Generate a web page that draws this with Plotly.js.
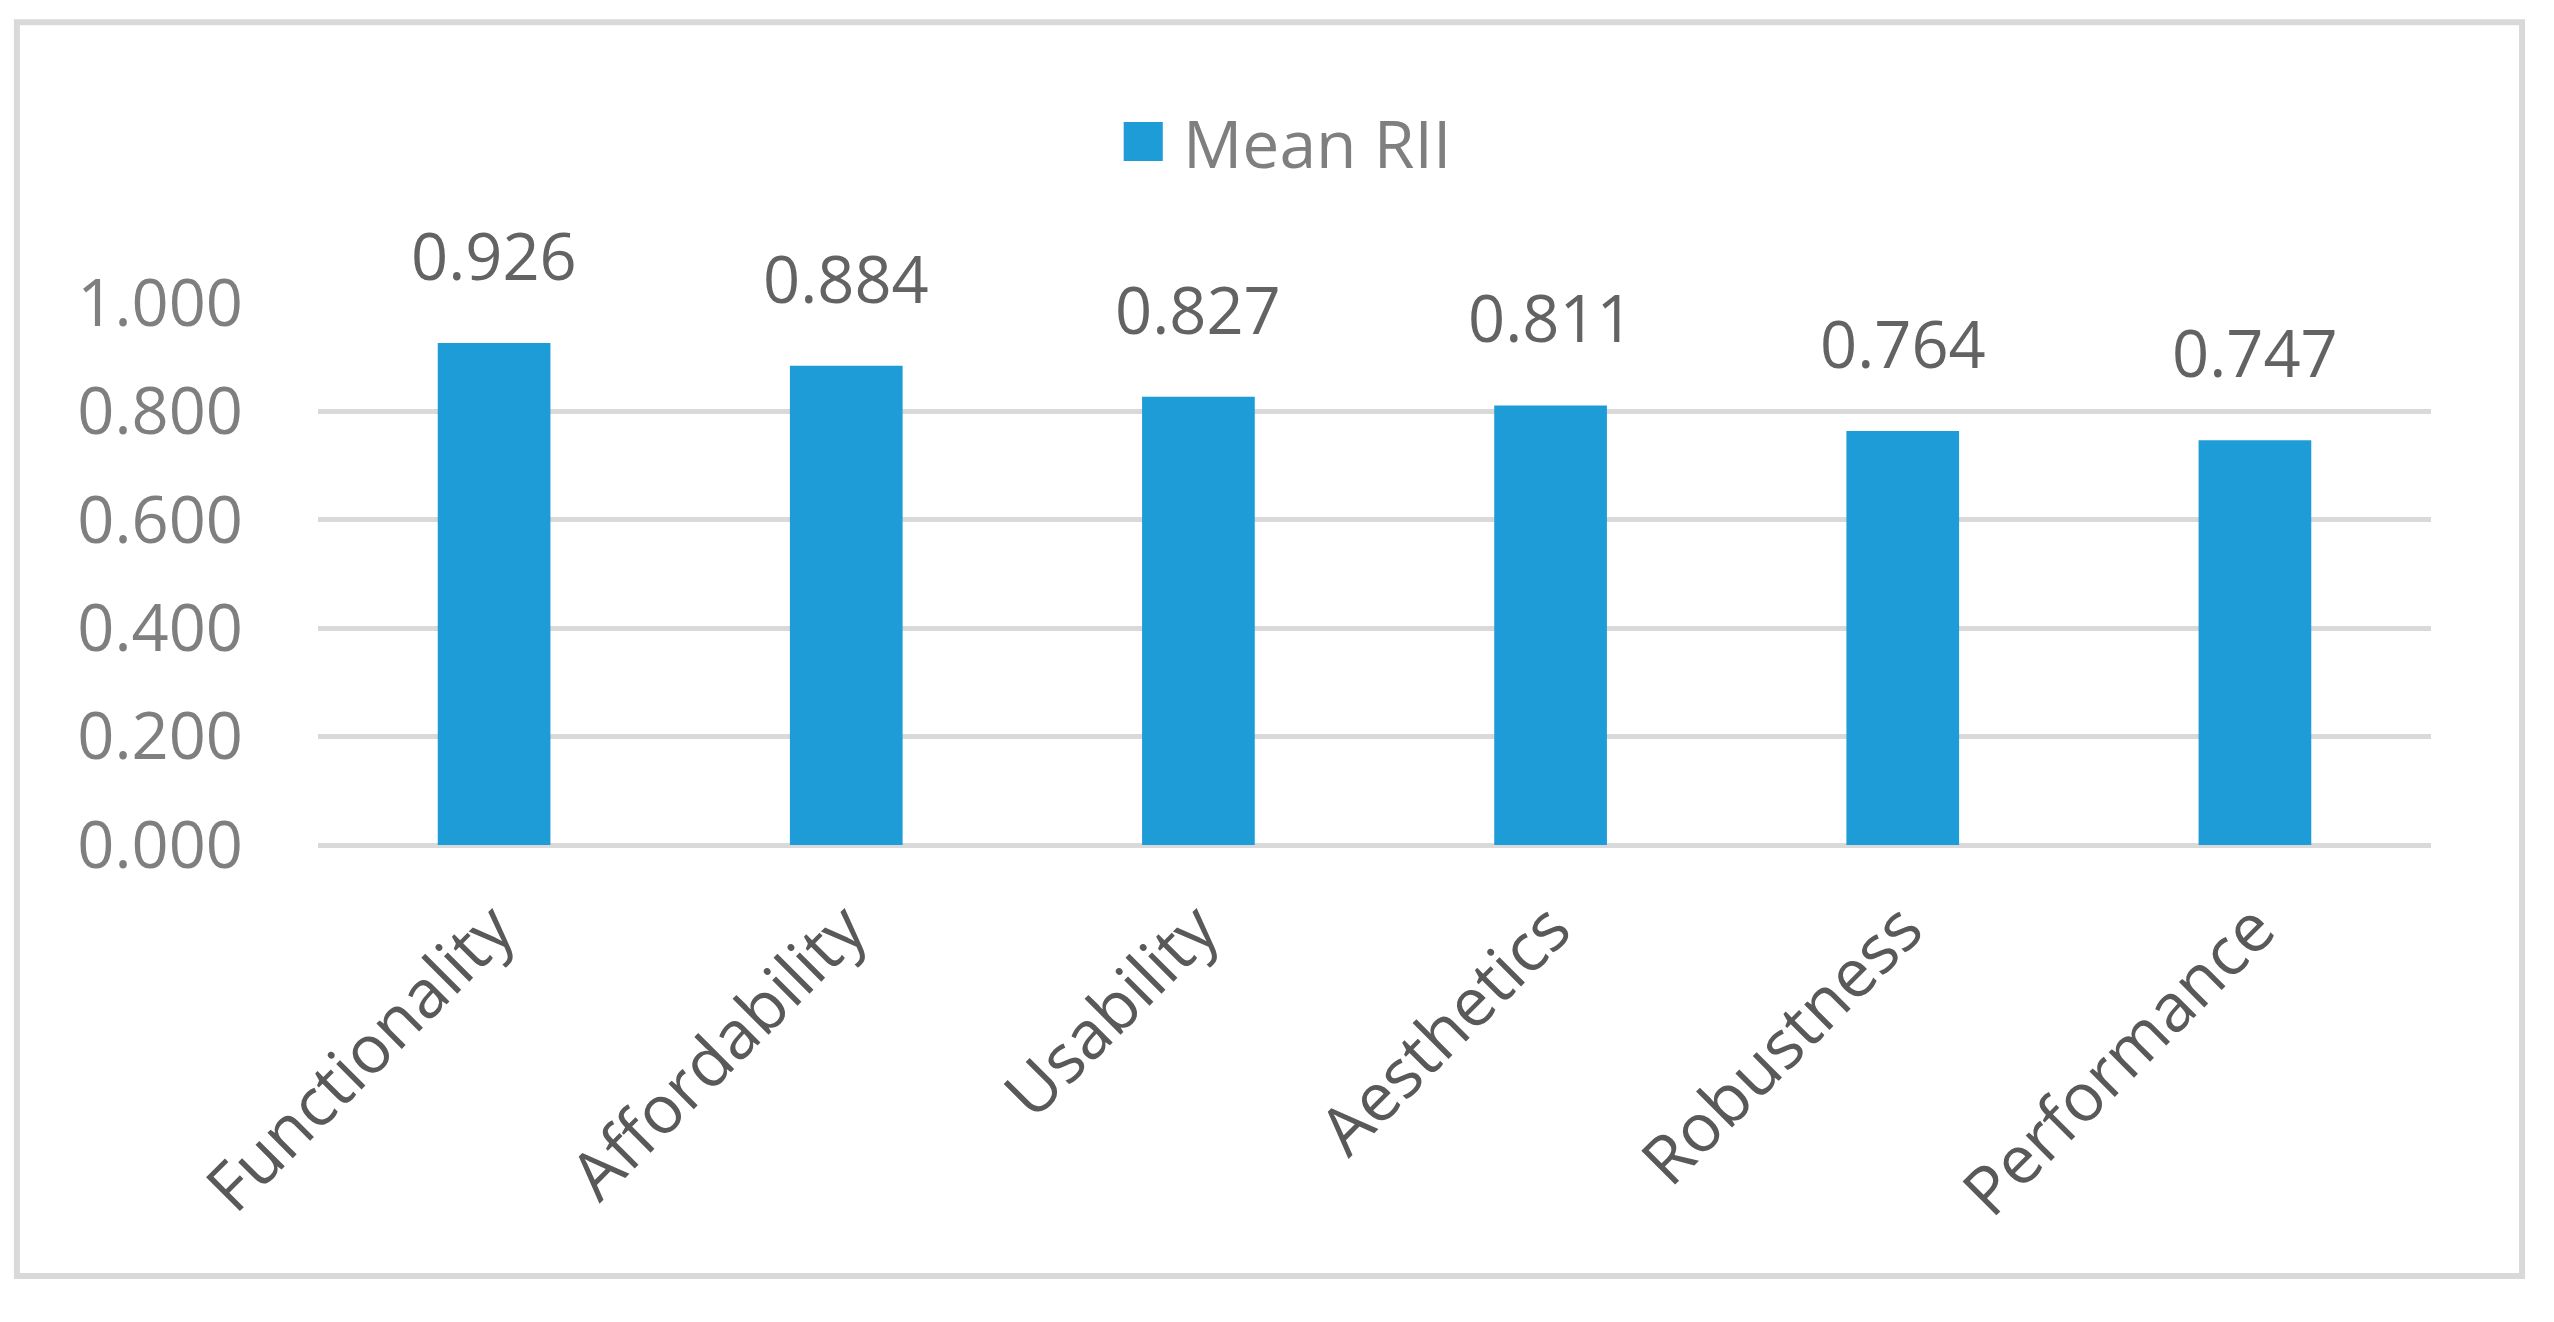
<!DOCTYPE html>
<html>
<head>
<meta charset="utf-8">
<script src="https://cdn.plot.ly/plotly-3.0.1.min.js"></script>
<style>
html,body{margin:0;padding:0;background:#fff;}
#chart{width:2554px;height:1322px;}
</style>
</head>
<body>
<div id="chart"></div>
<script>
const categories = ["Functionality", "Affordability", "Usability", "Aesthetics", "Robustness", "Performance"];
const meanRII = [0.926, 0.884, 0.827, 0.811, 0.764, 0.747];
const seriesName = "Mean RII";
const yTicks = [0, 0.2, 0.4, 0.6, 0.8, 1.0];

const FONT = "Open Sans, Noto Sans, sans-serif";
const barColor = "#1E9CD7";

const trace = {
  type: "bar",
  x: categories,
  y: meanRII,
  name: seriesName,
  marker: {color: barColor},
  width: 0.32,
  showlegend: false,
  cliponaxis: false,
  hoverinfo: "x+y"
};

const annotations = categories.map((c, i) => ({
  x: c, y: meanRII[i], xref: "x", yref: "y",
  text: meanRII[i].toFixed(3),
  showarrow: false, yanchor: "bottom", yshift: 42,
  font: {family: FONT, size: 65, color: "#636363"}
}));
// legend text
annotations.push({
  xref: "paper", yref: "paper", x: 0.4085, y: 1.297,
  xanchor: "left", yanchor: "middle", showarrow: false,
  text: seriesName,
  font: {family: FONT, size: 66, color: "#7f7f7f"}
});

const layout = {
  width: 2554, height: 1322,
  paper_bgcolor: "#ffffff", plot_bgcolor: "#ffffff",
  margin: {l: 318, r: 123, t: 303, b: 477},
  showlegend: false,
  xaxis: {
    type: "category",
    tickangle: -45,
    tickfont: {family: FONT, size: 67, color: "#595959"},
    showgrid: false, zeroline: false, showline: false,
    ticks: "", ticklabelstandoff: 30
  },
  yaxis: {
    range: [0, 1],
    tickvals: yTicks,
    tickformat: ".3f",
    tickfont: {family: FONT, size: 65, color: "#7f7f7f"},
    showgrid: true, gridcolor: "#d9d9d9", gridwidth: 5,
    zeroline: true, zerolinecolor: "#d9d9d9", zerolinewidth: 5,
    showline: false, ticks: "", ticklabelstandoff: 74
  },
  annotations: annotations,
  shapes: [
    {type: "rect", xref: "paper", yref: "paper",
     x0: -0.1425, x1: 1.0431, y0: -0.795, y1: 1.518,
     line: {color: "#d9d9d9", width: 6}, fillcolor: "rgba(0,0,0,0)", layer: "below"},
    {type: "rect", xref: "paper", yref: "paper",
     x0: 0.3813, x1: 0.3998, y0: 1.262, y1: 1.334,
     line: {width: 0}, fillcolor: barColor}
  ]
};

Plotly.newPlot("chart", [trace], layout, {displayModeBar: false, staticPlot: true});
</script>
</body>
</html>
